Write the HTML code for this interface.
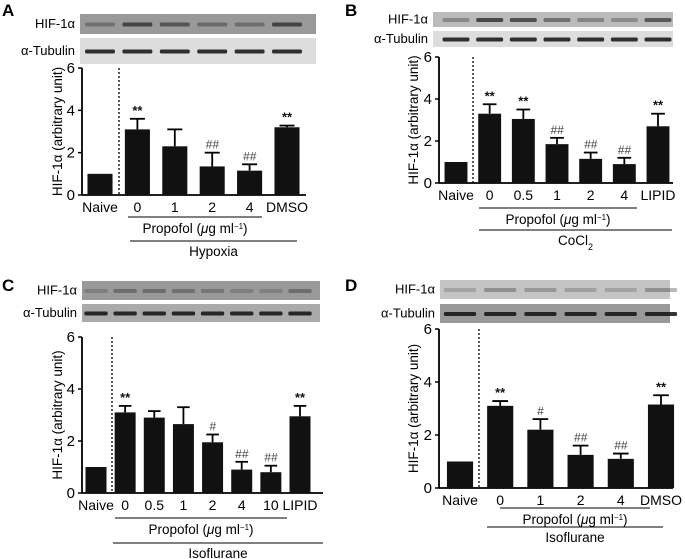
<!DOCTYPE html>
<html><head><meta charset="utf-8"><style>
body{margin:0;background:#fff;}
svg{display:block;font-family:"Liberation Sans",sans-serif;}
</style></head><body>
<svg id="fig" width="685" height="559" viewBox="0 0 685 559"></svg>
<script>
const catsA=["Naive","0","1","2","4","DMSO"];
const valsA=[1.0,3.1,2.3,1.35,1.15,3.2];
const errsA=[0,0.5,0.8,0.65,0.3,0.08];
const sigA=["","**","","##","##","**"];
const catsB=["Naive","0","0.5","1","2","4","LIPID"];
const valsB=[1.0,3.3,3.05,1.85,1.15,0.9,2.7];
const errsB=[0,0.45,0.45,0.3,0.3,0.3,0.6];
const sigB=["","**","**","##","##","##","**"];
const catsC=["Naive","0","0.5","1","2","4","10","LIPID"];
const valsC=[1.0,3.1,2.9,2.65,1.95,0.9,0.8,2.95];
const errsC=[0,0.25,0.25,0.65,0.3,0.3,0.25,0.4];
const sigC=["","**","","","#","##","##","**"];
const catsD=["Naive","0","1","2","4","DMSO"];
const valsD=[1.0,3.1,2.2,1.25,1.1,3.15];
const errsD=[0,0.18,0.4,0.35,0.2,0.35];
const sigD=["","**","#","##","##","**"];
const yTicks=[0,2,4,6];

const NS="http://www.w3.org/2000/svg";
const svg=document.getElementById('fig');
function mk(tag,attrs,parent,text){const e=document.createElementNS(NS,tag);for(const k in attrs)e.setAttribute(k,attrs[k]);if(text!==undefined)e.textContent=text;(parent||svg).appendChild(e);return e;}

function panel(p,cats,vals,errs,sig){
  const g=mk('g',{});
  
  
  const y=v=>p.y0-(v/6)*(p.y0-p.y6);
  const x0=p.c0, step=(p.cN-p.c0)/(cats.length-1);
  const x=i=>x0+i*step;
  let t=mk('text',{x:p.lx,y:p.ly,'font-size':17,'font-weight':'bold'},g,p.letter);
  
  let r=mk('rect',{x:p.bx0,y:p.h0,width:p.bx1-p.bx0,height:p.h1-p.h0,fill:p.hifBg},g);
  
  r=mk('rect',{x:p.bx0,y:p.t0,width:p.bx1-p.bx0,height:p.t1-p.t0,fill:p.tubBg},g);
  
  for(let i=0;i<cats.length;i++){
    const bw=step*0.8, cx=x(i);
    const op=Math.min(0.9,0.15+vals[i]*0.18*p.hifK);
    let b=mk('rect',{x:cx-bw/2,y:(p.h0+p.h1)/2-1.5,width:bw,height:4,fill:'#222',opacity:op,rx:1.5},g);
    
    b=mk('rect',{x:cx-bw/2,y:(p.t0+p.t1)/2-1.5,width:bw,height:4,fill:'#111',opacity:0.85,rx:1.5},g);
    
  }
  t=mk('text',{x:p.bx0-5,y:(p.h0+p.h1)/2+4,'font-size':13,'text-anchor':'end'},g,'HIF-1α');
  
  t=mk('text',{x:p.bx0-5,y:(p.t0+p.t1)/2+4,'font-size':13,'text-anchor':'end'},g,'α-Tubulin');
  
  let l=mk('line',{x1:p.ax,y1:p.y6,x2:p.ax,y2:p.y0,stroke:'#000','stroke-width':1.8},g);
  
  l=mk('line',{x1:p.ax,y1:p.y0,x2:p.axEnd,y2:p.y0,stroke:'#000','stroke-width':1.8},g);
  
  yTicks.forEach(v=>{
    let tk=mk('line',{x1:p.ax-4,y1:y(v),x2:p.ax,y2:y(v),stroke:'#000','stroke-width':1.5},g);
    
    let tl=mk('text',{x:p.ax-7,y:y(v)+5,'font-size':15,'text-anchor':'end'},g,String(v));
    
  });
  const ym=(p.y0+p.y6)/2;
  t=mk('text',{x:p.ytx,y:ym,'font-size':13.5,'text-anchor':'middle',transform:`rotate(-90 ${p.ytx} ${ym})`},g,'HIF-1α (arbitrary unit)');
  
  l=mk('line',{x1:p.dot,y1:p.y6,x2:p.dot,y2:p.y0,stroke:'#000','stroke-width':1.3,'stroke-dasharray':'2,2'},g);
  
  for(let i=0;i<cats.length;i++){
    const bw=step*p.bwf, cx=x(i);
    if(errs[i]>0){
      let e=mk('line',{x1:cx,y1:y(vals[i]),x2:cx,y2:y(vals[i]+errs[i]),stroke:'#000','stroke-width':1.8},g);
      
      e=mk('line',{x1:cx-bw*0.3,y1:y(vals[i]+errs[i]),x2:cx+bw*0.3,y2:y(vals[i]+errs[i]),stroke:'#000','stroke-width':1.8},g);
      
    }
    let b=mk('rect',{x:cx-bw/2,y:y(vals[i]),width:bw,height:p.y0-y(vals[i]),fill:'#111'},g);
    
    if(sig[i]){
      const s=mk('text',{x:cx,y:y(vals[i]+errs[i])-4,'font-size':sig[i]=='**'?13:12,'font-style':sig[i]=='**'?'normal':'italic','font-weight':sig[i]=='**'?'bold':'normal','text-anchor':'middle',fill:sig[i]=='**'?'#111':'#444'},g,sig[i]);
      
    }
    const tl=mk('text',{x:cx,y:p.y0+17,'font-size':14,'text-anchor':'middle'},g,cats[i]);
    
  }
  l=mk('line',{x1:p.p1[0],y1:p.p1[2],x2:p.p1[1],y2:p.p1[2],stroke:'#000','stroke-width':1},g);
  
  t=mk('text',{x:(p.p1[0]+p.p1[1])/2,y:p.p1[2]+16,'font-size':13.5,'text-anchor':'middle'},g);
  
  t.innerHTML='Propofol (<tspan font-style="italic">μ</tspan>g ml<tspan baseline-shift="super" font-size="8">−1</tspan>)';
  l=mk('line',{x1:p.p2[0],y1:p.p2[2],x2:p.p2[1],y2:p.p2[2],stroke:'#000','stroke-width':1},g);
  
  t=mk('text',{x:(p.p2[0]+p.p2[1])/2,y:p.p2[2]+15,'font-size':13.5,'text-anchor':'middle'},g);
  
  t.innerHTML=p.cond;
}
panel({letter:'A',lx:2,ly:16,bx0:80,bx1:316,h0:14,h1:34,t0:38,t1:64,hifBg:'#999',tubBg:'#ddd',hifK:1,
  ax:82,axEnd:306,y0:195,y6:68,c0:100,cN:287,bwf:0.67,dot:119,ytx:62,
  p1:[128,262,217],p2:[130,297,241],cond:'Hypoxia'},catsA,valsA,errsA,sigA);
panel({letter:'B',lx:345,ly:16,bx0:433,bx1:673,h0:12,h1:27,t0:31,t1:47,hifBg:'#bbb',tubBg:'#ddd',hifK:1,
  ax:439,axEnd:673,y0:183,y6:57,c0:456,cN:658,bwf:0.68,dot:473,ytx:418,
  p1:[479,637,208],p2:[479,672,230],cond:'CoCl<tspan baseline-shift="sub" font-size="9">2</tspan>'},catsB,valsB,errsB,sigB);
panel({letter:'C',lx:2,ly:291,bx0:82,bx1:320,h0:281,h1:300,t0:304,t1:322,hifBg:'#999',tubBg:'#aaa',hifK:0.4,
  ax:82,axEnd:323,y0:493,y6:337,c0:96,cN:300,bwf:0.72,dot:112,ytx:62,
  p1:[115,287,518],p2:[113,323,543],cond:'Isoflurane'},catsC,valsC,errsC,sigC);
panel({letter:'D',lx:345,ly:291,bx0:440,bx1:670,h0:280,h1:299,t0:304,t1:323,hifBg:'#c4c4c4',tubBg:'#999',hifK:0.3,
  ax:439,axEnd:673,y0:488,y6:329,c0:460,cN:661,bwf:0.65,dot:479,ytx:418,
  p1:[500,650,508],p2:[487,663,527],cond:'Isoflurane'},catsD,valsD,errsD,sigD);
</script>
</body></html>
